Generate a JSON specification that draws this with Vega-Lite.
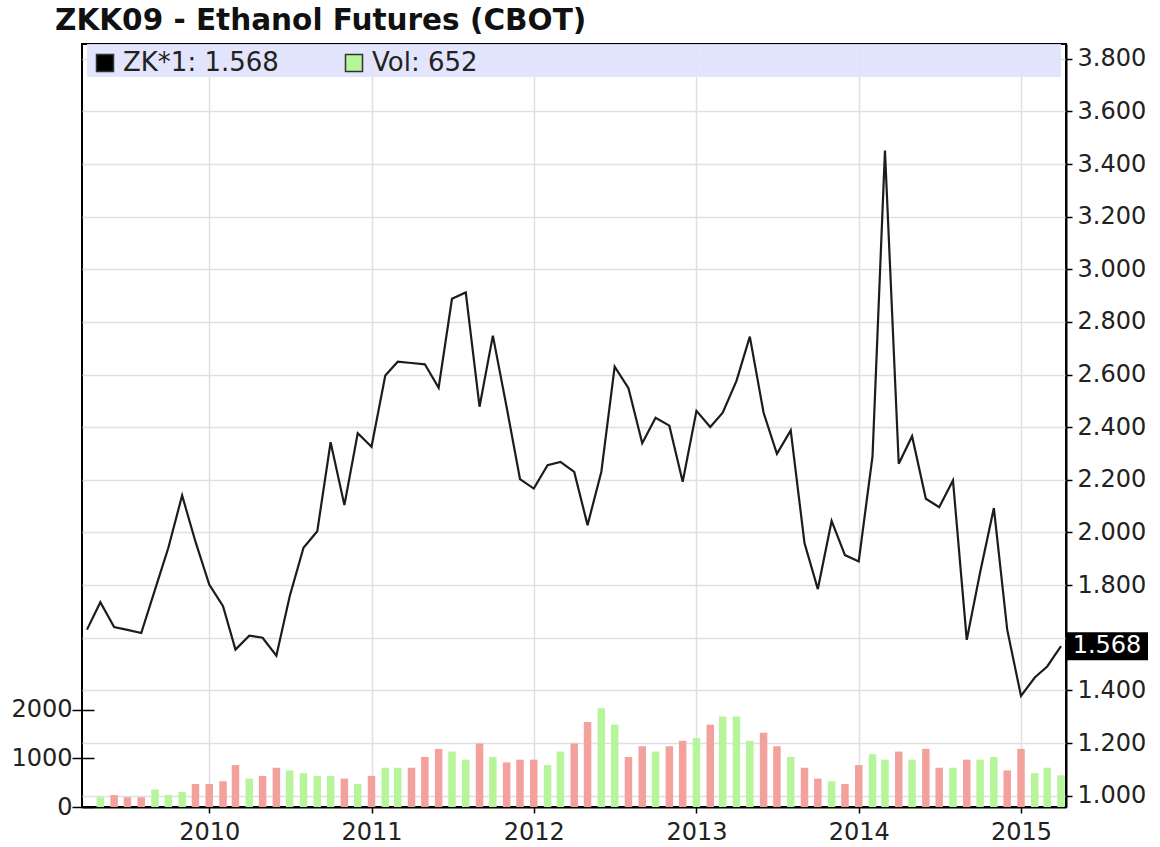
{
  "$schema": "https://vega.github.io/schema/vega-lite/v6.json",
  "width": 984,
  "height": 763,
  "autosize": "none",
  "padding": {"left": 82, "top": 44, "right": 94, "bottom": 40},
  "background": "white",
  "title": {
    "text": "ZKK09 - Ethanol Futures (CBOT)",
    "anchor": "start",
    "frame": "group",
    "font": "DejaVu Sans",
    "fontSize": 29.5,
    "fontWeight": "bold",
    "color": "#111111",
    "dx": -27,
    "dy": 28,
    "offset": 13,
    "baseline": "alphabetic"
  },
  "config": {
    "view": {"stroke": "#000000", "strokeWidth": 2},
    "font": "DejaVu Sans",
    "axis": {
      "labelFont": "DejaVu Sans",
      "labelFontSize": 24,
      "labelColor": "#222222",
      "tickColor": "#000000",
      "domainColor": "#000000",
      "domainWidth": 2,
      "tickWidth": 1.5,
      "gridColor": "#e0e0e0",
      "gridWidth": 1.5,
      "title": null
    }
  },
  "datasets": {
    "prices": [
      {"month": "2009-04-01", "price": 1.631},
      {"month": "2009-05-01", "price": 1.735},
      {"month": "2009-06-01", "price": 1.641},
      {"month": "2009-07-01", "price": 1.630},
      {"month": "2009-08-01", "price": 1.618},
      {"month": "2009-09-01", "price": 1.783},
      {"month": "2009-10-01", "price": 1.942},
      {"month": "2009-11-01", "price": 2.141},
      {"month": "2009-12-01", "price": 1.965},
      {"month": "2010-01-01", "price": 1.802},
      {"month": "2010-02-01", "price": 1.720},
      {"month": "2010-03-01", "price": 1.555},
      {"month": "2010-04-01", "price": 1.608},
      {"month": "2010-05-01", "price": 1.600},
      {"month": "2010-06-01", "price": 1.532},
      {"month": "2010-07-01", "price": 1.758},
      {"month": "2010-08-01", "price": 1.942},
      {"month": "2010-09-01", "price": 2.005},
      {"month": "2010-10-01", "price": 2.343},
      {"month": "2010-11-01", "price": 2.104},
      {"month": "2010-12-01", "price": 2.377},
      {"month": "2011-01-01", "price": 2.326},
      {"month": "2011-02-01", "price": 2.596},
      {"month": "2011-03-01", "price": 2.649},
      {"month": "2011-04-01", "price": 2.644},
      {"month": "2011-05-01", "price": 2.639},
      {"month": "2011-06-01", "price": 2.550},
      {"month": "2011-07-01", "price": 2.888},
      {"month": "2011-08-01", "price": 2.912},
      {"month": "2011-09-01", "price": 2.478},
      {"month": "2011-10-01", "price": 2.748},
      {"month": "2011-11-01", "price": 2.476},
      {"month": "2011-12-01", "price": 2.203},
      {"month": "2012-01-01", "price": 2.167},
      {"month": "2012-02-01", "price": 2.256},
      {"month": "2012-03-01", "price": 2.268},
      {"month": "2012-04-01", "price": 2.230},
      {"month": "2012-05-01", "price": 2.028},
      {"month": "2012-06-01", "price": 2.231},
      {"month": "2012-07-01", "price": 2.630},
      {"month": "2012-08-01", "price": 2.548},
      {"month": "2012-09-01", "price": 2.339},
      {"month": "2012-10-01", "price": 2.436},
      {"month": "2012-11-01", "price": 2.406},
      {"month": "2012-12-01", "price": 2.193},
      {"month": "2013-01-01", "price": 2.462},
      {"month": "2013-02-01", "price": 2.401},
      {"month": "2013-03-01", "price": 2.455},
      {"month": "2013-04-01", "price": 2.576},
      {"month": "2013-05-01", "price": 2.744},
      {"month": "2013-06-01", "price": 2.455},
      {"month": "2013-07-01", "price": 2.299},
      {"month": "2013-08-01", "price": 2.388},
      {"month": "2013-09-01", "price": 1.960},
      {"month": "2013-10-01", "price": 1.785},
      {"month": "2013-11-01", "price": 2.044},
      {"month": "2013-12-01", "price": 1.914},
      {"month": "2014-01-01", "price": 1.890},
      {"month": "2014-02-01", "price": 2.289},
      {"month": "2014-03-01", "price": 3.451},
      {"month": "2014-04-01", "price": 2.261},
      {"month": "2014-05-01", "price": 2.366},
      {"month": "2014-06-01", "price": 2.128},
      {"month": "2014-07-01", "price": 2.096},
      {"month": "2014-08-01", "price": 2.198},
      {"month": "2014-09-01", "price": 1.592},
      {"month": "2014-10-01", "price": 1.848},
      {"month": "2014-11-01", "price": 2.093},
      {"month": "2014-12-01", "price": 1.631},
      {"month": "2015-01-01", "price": 1.379},
      {"month": "2015-02-01", "price": 1.449},
      {"month": "2015-03-01", "price": 1.491},
      {"month": "2015-04-01", "price": 1.568}
    ],
    "volume": [
      {"month": "2009-05-01", "vol": 200, "dir": "up"},
      {"month": "2009-06-01", "vol": 245, "dir": "down"},
      {"month": "2009-07-01", "vol": 200, "dir": "down"},
      {"month": "2009-08-01", "vol": 200, "dir": "down"},
      {"month": "2009-09-01", "vol": 362, "dir": "up"},
      {"month": "2009-10-01", "vol": 245, "dir": "up"},
      {"month": "2009-11-01", "vol": 308, "dir": "up"},
      {"month": "2009-12-01", "vol": 474, "dir": "down"},
      {"month": "2010-01-01", "vol": 474, "dir": "down"},
      {"month": "2010-02-01", "vol": 530, "dir": "down"},
      {"month": "2010-03-01", "vol": 862, "dir": "down"},
      {"month": "2010-04-01", "vol": 585, "dir": "up"},
      {"month": "2010-05-01", "vol": 640, "dir": "down"},
      {"month": "2010-06-01", "vol": 808, "dir": "down"},
      {"month": "2010-07-01", "vol": 752, "dir": "up"},
      {"month": "2010-08-01", "vol": 696, "dir": "up"},
      {"month": "2010-09-01", "vol": 640, "dir": "up"},
      {"month": "2010-10-01", "vol": 640, "dir": "up"},
      {"month": "2010-11-01", "vol": 585, "dir": "down"},
      {"month": "2010-12-01", "vol": 474, "dir": "up"},
      {"month": "2011-01-01", "vol": 640, "dir": "down"},
      {"month": "2011-02-01", "vol": 808, "dir": "up"},
      {"month": "2011-03-01", "vol": 808, "dir": "up"},
      {"month": "2011-04-01", "vol": 808, "dir": "down"},
      {"month": "2011-05-01", "vol": 1030, "dir": "down"},
      {"month": "2011-06-01", "vol": 1196, "dir": "down"},
      {"month": "2011-07-01", "vol": 1140, "dir": "up"},
      {"month": "2011-08-01", "vol": 974, "dir": "up"},
      {"month": "2011-09-01", "vol": 1307, "dir": "down"},
      {"month": "2011-10-01", "vol": 1030, "dir": "up"},
      {"month": "2011-11-01", "vol": 918, "dir": "down"},
      {"month": "2011-12-01", "vol": 974, "dir": "down"},
      {"month": "2012-01-01", "vol": 974, "dir": "down"},
      {"month": "2012-02-01", "vol": 862, "dir": "up"},
      {"month": "2012-03-01", "vol": 1140, "dir": "up"},
      {"month": "2012-04-01", "vol": 1307, "dir": "down"},
      {"month": "2012-05-01", "vol": 1750, "dir": "down"},
      {"month": "2012-06-01", "vol": 2030, "dir": "up"},
      {"month": "2012-07-01", "vol": 1695, "dir": "up"},
      {"month": "2012-08-01", "vol": 1030, "dir": "down"},
      {"month": "2012-09-01", "vol": 1250, "dir": "down"},
      {"month": "2012-10-01", "vol": 1140, "dir": "up"},
      {"month": "2012-11-01", "vol": 1250, "dir": "down"},
      {"month": "2012-12-01", "vol": 1362, "dir": "down"},
      {"month": "2013-01-01", "vol": 1418, "dir": "up"},
      {"month": "2013-02-01", "vol": 1695, "dir": "down"},
      {"month": "2013-03-01", "vol": 1862, "dir": "up"},
      {"month": "2013-04-01", "vol": 1862, "dir": "up"},
      {"month": "2013-05-01", "vol": 1362, "dir": "up"},
      {"month": "2013-06-01", "vol": 1530, "dir": "down"},
      {"month": "2013-07-01", "vol": 1250, "dir": "down"},
      {"month": "2013-08-01", "vol": 1030, "dir": "up"},
      {"month": "2013-09-01", "vol": 808, "dir": "down"},
      {"month": "2013-10-01", "vol": 585, "dir": "down"},
      {"month": "2013-11-01", "vol": 530, "dir": "up"},
      {"month": "2013-12-01", "vol": 474, "dir": "down"},
      {"month": "2014-01-01", "vol": 862, "dir": "down"},
      {"month": "2014-02-01", "vol": 1085, "dir": "up"},
      {"month": "2014-03-01", "vol": 974, "dir": "up"},
      {"month": "2014-04-01", "vol": 1140, "dir": "down"},
      {"month": "2014-05-01", "vol": 974, "dir": "up"},
      {"month": "2014-06-01", "vol": 1196, "dir": "down"},
      {"month": "2014-07-01", "vol": 808, "dir": "down"},
      {"month": "2014-08-01", "vol": 808, "dir": "up"},
      {"month": "2014-09-01", "vol": 974, "dir": "down"},
      {"month": "2014-10-01", "vol": 974, "dir": "up"},
      {"month": "2014-11-01", "vol": 1030, "dir": "up"},
      {"month": "2014-12-01", "vol": 752, "dir": "down"},
      {"month": "2015-01-01", "vol": 1196, "dir": "down"},
      {"month": "2015-02-01", "vol": 696, "dir": "up"},
      {"month": "2015-03-01", "vol": 808, "dir": "up"},
      {"month": "2015-04-01", "vol": 652, "dir": "up"}
    ]
  },
  "layer": [
    {
      "data": {"name": "volume"},
      "mark": {"type": "bar", "width": 7.5, "clip": true},
      "encoding": {
        "x": {
          "field": "month",
          "type": "temporal",
          "scale": {"type": "utc", "domain": [{"year": 2009, "month": 4, "date": 1, "utc": true}, {"year": 2015, "month": 4, "date": 1, "utc": true}], "nice": false},
          "axis": {
            "values": [
              {"year": 2010, "month": 1, "date": 1, "utc": true},
              {"year": 2011, "month": 1, "date": 1, "utc": true},
              {"year": 2012, "month": 1, "date": 1, "utc": true},
              {"year": 2013, "month": 1, "date": 1, "utc": true},
              {"year": 2014, "month": 1, "date": 1, "utc": true},
              {"year": 2015, "month": 1, "date": 1, "utc": true}
            ],
            "format": "%Y",
            "grid": true,
            "tickSize": 6,
            "labelPadding": 7,
            "labelFlush": false,
            "labelOverlap": false
          }
        },
        "y": {
          "field": "vol",
          "type": "quantitative",
          "scale": {"domain": [0, 15700], "nice": false, "zero": true},
          "axis": {
            "orient": "left",
            "values": [0, 1000, 2000],
            "format": "d",
            "grid": false,
            "domain": false,
            "offset": -12,
            "tickSize": 22,
            "labelPadding": 0
          }
        },
        "color": {
          "field": "dir",
          "type": "nominal",
          "scale": {"domain": ["up", "down"], "range": ["#b6f59a", "#f3a19d"]},
          "legend": null
        }
      }
    },
    {
      "layer": [
        {
          "data": {"values": [{}]},
          "mark": {"type": "rect", "color": "#dfe2fb", "opacity": 0.9},
          "encoding": {
            "x": {"datum": {"year": 2009, "month": 4, "date": 1, "utc": true}, "type": "temporal", "scale": {"type": "utc", "domain": [{"year": 2009, "month": 4, "date": 1, "utc": true}, {"year": 2015, "month": 4, "date": 1, "utc": true}], "nice": false}},
            "x2": {"datum": {"year": 2015, "month": 4, "date": 1, "utc": true}},
            "y": {"datum": 3.731, "type": "quantitative", "scale": {"domain": [0.957, 3.856], "nice": false, "zero": false}},
            "y2": {"datum": 3.856}
          }
        },
        {
          "data": {"name": "prices"},
          "mark": {"type": "line", "color": "#1c1c1c", "strokeWidth": 2.2, "clip": true},
          "encoding": {
            "x": {"field": "month", "type": "temporal", "scale": {"type": "utc", "domain": [{"year": 2009, "month": 4, "date": 1, "utc": true}, {"year": 2015, "month": 4, "date": 1, "utc": true}], "nice": false}},
            "y": {
              "field": "price",
              "type": "quantitative",
              "scale": {"domain": [0.957, 3.856], "nice": false, "zero": false},
              "axis": {
                "orient": "right",
                "values": [1.0, 1.2, 1.4, 1.6, 1.8, 2.0, 2.2, 2.4, 2.6, 2.8, 3.0, 3.2, 3.4, 3.6, 3.8],
                "labelExpr": "abs(datum.value - 1.6) < 0.001 ? '' : format(datum.value, '.3f')",
                "grid": true,
                "tickSize": 6,
                "labelPadding": 5
              }
            }
          }
        },
        {
          "data": {"name": "prices"},
          "transform": [{"filter": {"field": "price", "equal": 1.568}}],
          "mark": {"type": "point", "shape": "M-1,-0.34L1,-0.34L1,0.34L-1,0.34Z", "size": 6724, "filled": true, "opacity": 1, "xOffset": 46, "clip": false},
          "encoding": {
            "x": {"field": "month", "type": "temporal"},
            "y": {"field": "price", "type": "quantitative"},
            "fill": {
              "datum": "ZK*1: 1.568",
              "scale": {"domain": ["ZK*1: 1.568", "Vol: 652"], "range": ["#000000", "#b6f59a"]},
              "legend": {
                "title": null,
                "orient": "none",
                "legendX": 10,
                "legendY": 6,
                "direction": "horizontal",
                "symbolType": "square",
                "symbolSize": 289,
                "symbolStrokeColor": "#333333",
                "symbolStrokeWidth": 1.5,
                "symbolOpacity": 1,
                "labelFont": "DejaVu Sans",
                "labelFontSize": 26,
                "labelColor": "#222222",
                "labelOffset": 5,
                "columnPadding": 62,
                "padding": 0
              }
            }
          }
        },
        {
          "data": {"name": "prices"},
          "transform": [{"filter": {"field": "price", "equal": 1.568}}],
          "mark": {"type": "text", "color": "#ffffff", "fontSize": 24, "font": "DejaVu Sans", "align": "center", "baseline": "middle", "xOffset": 46, "clip": false},
          "encoding": {
            "x": {"field": "month", "type": "temporal"},
            "y": {"field": "price", "type": "quantitative"},
            "text": {"field": "price", "type": "quantitative", "format": ".3f"}
          }
        }
      ]
    }
  ],
  "resolve": {"scale": {"y": "independent"}, "axis": {"y": "independent"}}
}
